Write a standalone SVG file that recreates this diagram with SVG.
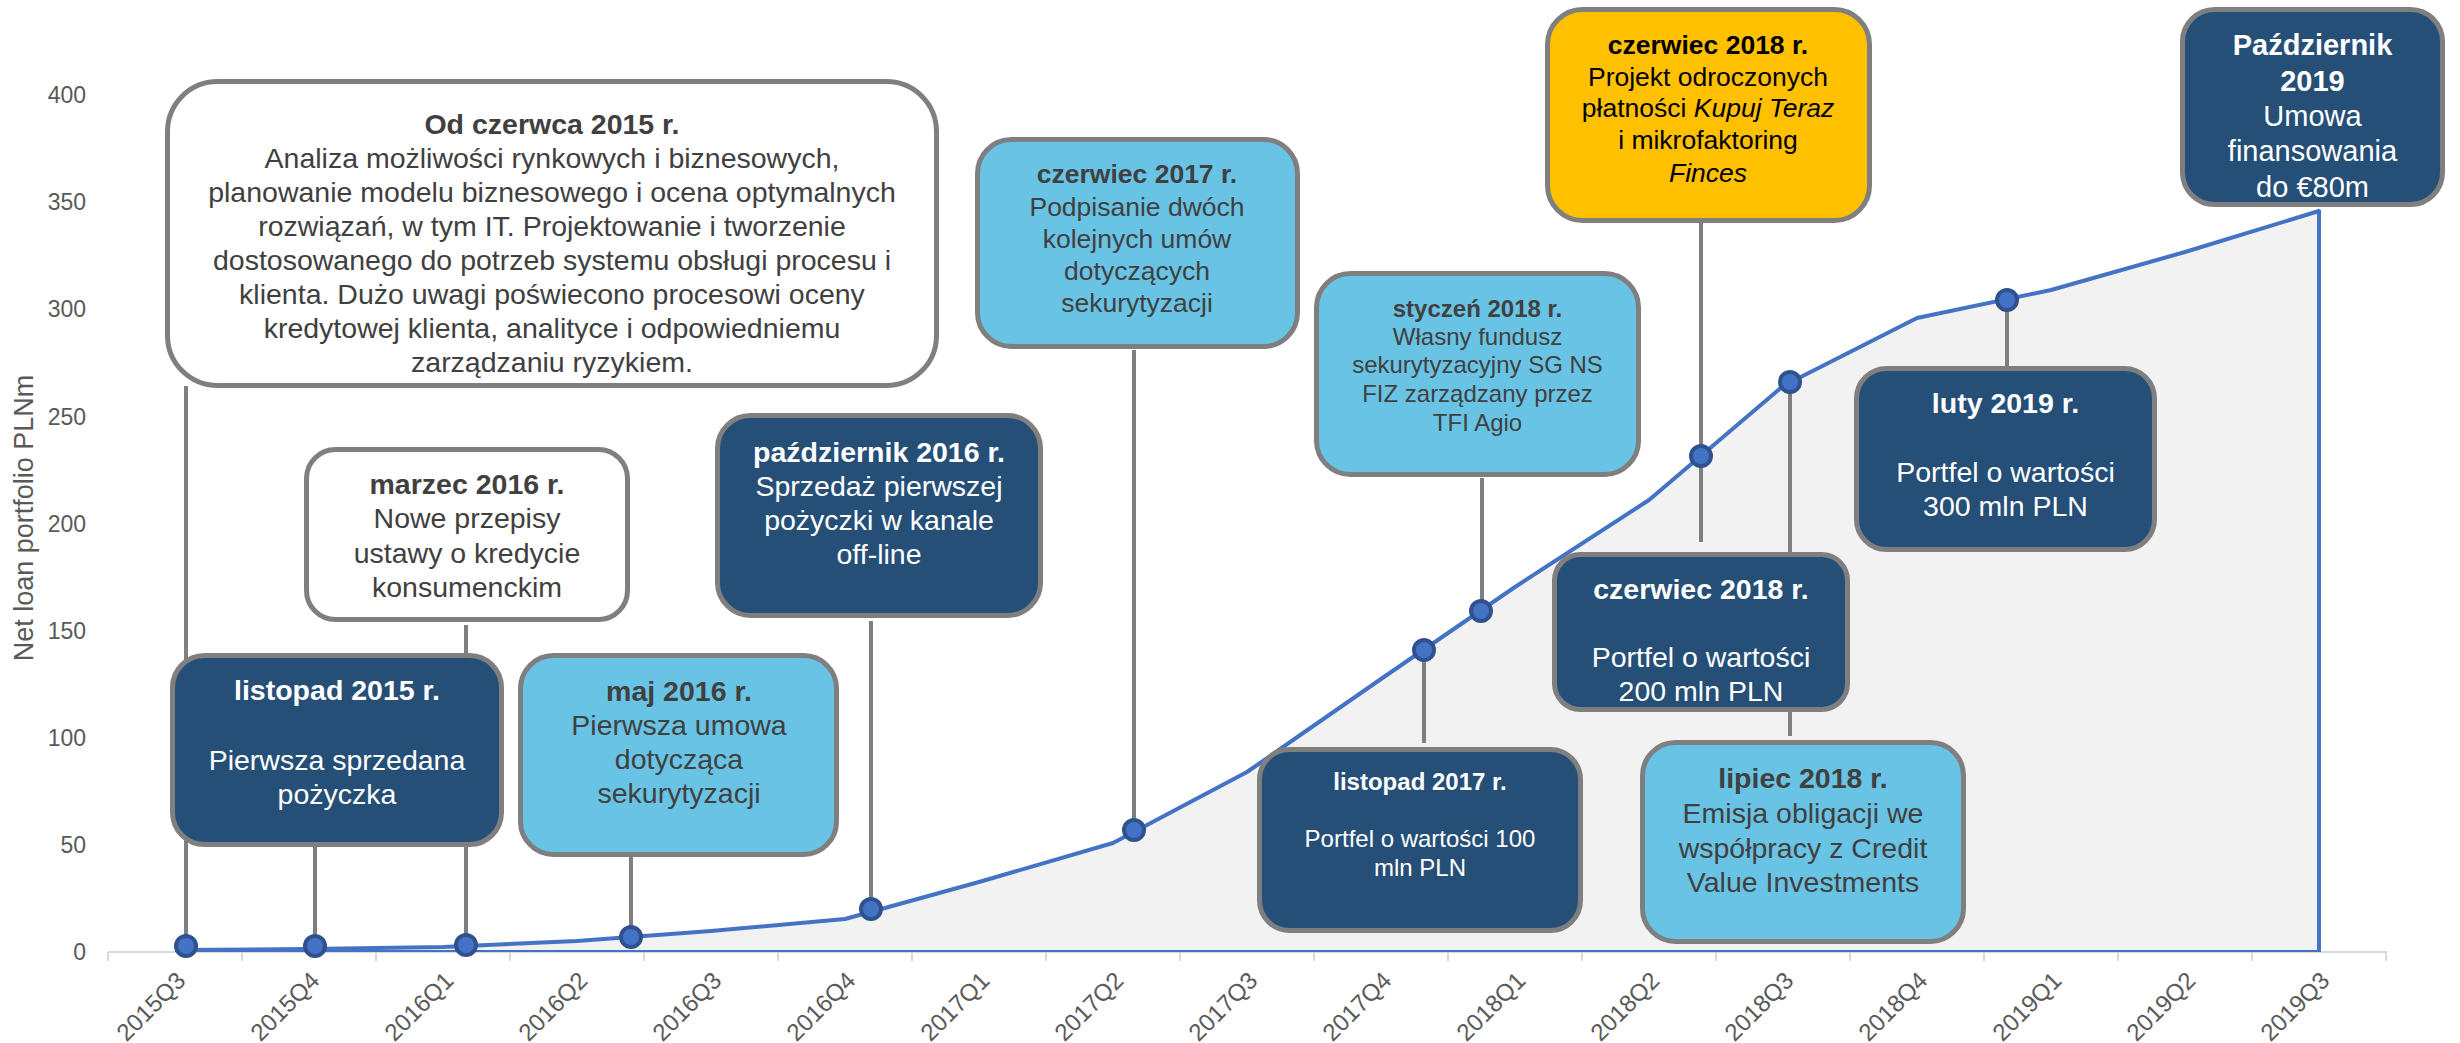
<svg xmlns="http://www.w3.org/2000/svg" width="2460" height="1043" viewBox="0 0 2460 1043">
<style>
.t{font-family:"Liberation Sans",Arial,Helvetica,sans-serif;text-anchor:middle}
.b{font-weight:bold}
.i{font-style:italic}
.box{stroke:#7F7F7F;stroke-width:5}
.dark{fill:#264F78}.light{fill:#69C3E4}.white{fill:#FFFFFF}.yellow{fill:#FFC000}
.w{fill:#FFFFFF}.g{fill:#404040}.k{fill:#000000}
.f28{font-size:28.5px}.f26{font-size:26.5px}.f24{font-size:24px}.f29{font-size:29px}
.ax{font-family:"Liberation Sans",Arial,Helvetica,sans-serif;font-size:23px;fill:#595959}
.xl{font-size:24px}
.conn{stroke:#7F7F7F;stroke-width:4;fill:none}
.mk{fill:#4472C4;stroke:#2F528F;stroke-width:4}
</style>
<rect width="2460" height="1043" fill="#FFFFFF"/>
<g id="chart">
<path d="M175,950 L309,949 L443,947 L577,941 L711,931 L845,919 L979,882 L1113,843 L1247,772 L1381,679 L1515,587 L1649,500 L1783,386 L1917,318 L2051,290 L2185,252 L2319,211 L2319,952 L175,952 Z" fill="#F2F2F2" stroke="none"/>
<line x1="108" y1="952" x2="2387" y2="952" stroke="#D9D9D9" stroke-width="2"/>
<path d="M175,951 L2319,951" stroke="#4472C4" stroke-width="2" fill="none"/>
<path d="M175,950 L309,949 L443,947 L577,941 L711,931 L845,919 L979,882 L1113,843 L1247,772 L1381,679 L1515,587 L1649,500 L1783,386 L1917,318 L2051,290 L2185,252 L2319,211 L2319,952" stroke="#4472C4" stroke-width="4" fill="none" stroke-linejoin="round"/>
<g stroke="#D9D9D9" stroke-width="2">
<line x1="108" y1="952" x2="108" y2="961"/><line x1="242" y1="952" x2="242" y2="961"/><line x1="376" y1="952" x2="376" y2="961"/><line x1="510" y1="952" x2="510" y2="961"/><line x1="644" y1="952" x2="644" y2="961"/><line x1="778" y1="952" x2="778" y2="961"/><line x1="912" y1="952" x2="912" y2="961"/><line x1="1046" y1="952" x2="1046" y2="961"/><line x1="1180" y1="952" x2="1180" y2="961"/><line x1="1314" y1="952" x2="1314" y2="961"/><line x1="1448" y1="952" x2="1448" y2="961"/><line x1="1582" y1="952" x2="1582" y2="961"/><line x1="1716" y1="952" x2="1716" y2="961"/><line x1="1850" y1="952" x2="1850" y2="961"/><line x1="1984" y1="952" x2="1984" y2="961"/><line x1="2118" y1="952" x2="2118" y2="961"/><line x1="2252" y1="952" x2="2252" y2="961"/><line x1="2386" y1="952" x2="2386" y2="961"/>
</g>
<g class="ax" text-anchor="end">
<text x="86" y="960">0</text><text x="86" y="853">50</text><text x="86" y="746">100</text><text x="86" y="639">150</text><text x="86" y="532">200</text><text x="86" y="425">250</text><text x="86" y="317">300</text><text x="86" y="210">350</text><text x="86" y="103">400</text>
</g>
<text class="ax" text-anchor="middle" style="font-size:27px" transform="translate(33,518) rotate(-90)">Net loan portfolio PLNm</text>
<g class="ax xl" text-anchor="end">
<text transform="translate(187,982) rotate(-45)">2015Q3</text>
<text transform="translate(321,982) rotate(-45)">2015Q4</text>
<text transform="translate(455,982) rotate(-45)">2016Q1</text>
<text transform="translate(589,982) rotate(-45)">2016Q2</text>
<text transform="translate(723,982) rotate(-45)">2016Q3</text>
<text transform="translate(857,982) rotate(-45)">2016Q4</text>
<text transform="translate(991,982) rotate(-45)">2017Q1</text>
<text transform="translate(1125,982) rotate(-45)">2017Q2</text>
<text transform="translate(1259,982) rotate(-45)">2017Q3</text>
<text transform="translate(1393,982) rotate(-45)">2017Q4</text>
<text transform="translate(1527,982) rotate(-45)">2018Q1</text>
<text transform="translate(1661,982) rotate(-45)">2018Q2</text>
<text transform="translate(1795,982) rotate(-45)">2018Q3</text>
<text transform="translate(1929,982) rotate(-45)">2018Q4</text>
<text transform="translate(2063,982) rotate(-45)">2019Q1</text>
<text transform="translate(2197,982) rotate(-45)">2019Q2</text>
<text transform="translate(2331,982) rotate(-45)">2019Q3</text>
</g>
</g>
<g id="connectors">
<line class="conn" x1="186" y1="386" x2="186" y2="946"/>
<line class="conn" x1="315" y1="846" x2="315" y2="946"/>
<line class="conn" x1="466" y1="625" x2="466" y2="945"/>
<line class="conn" x1="631" y1="857" x2="631" y2="937"/>
<line class="conn" x1="871" y1="621" x2="871" y2="909"/>
<line class="conn" x1="1134" y1="350" x2="1134" y2="830"/>
<line class="conn" x1="1424" y1="650" x2="1424" y2="743"/>
<line class="conn" x1="1482" y1="478" x2="1482" y2="611"/>
<line class="conn" x1="1701" y1="223" x2="1701" y2="542"/>
<line class="conn" x1="1790" y1="382" x2="1790" y2="736"/>
<line class="conn" x1="2007" y1="300" x2="2007" y2="366"/>
<circle class="mk" cx="186" cy="946" r="10"/>
<circle class="mk" cx="315" cy="946" r="10"/>
<circle class="mk" cx="466" cy="945" r="10"/>
<circle class="mk" cx="631" cy="937" r="10"/>
<circle class="mk" cx="871" cy="909" r="10"/>
<circle class="mk" cx="1134" cy="830" r="10"/>
<circle class="mk" cx="1424" cy="650" r="10"/>
<circle class="mk" cx="1481" cy="611" r="10"/>
<circle class="mk" cx="1701" cy="456" r="10"/>
<circle class="mk" cx="1790" cy="382" r="10"/>
<circle class="mk" cx="2007" cy="300" r="10"/>
</g>
<g id="n-od-czerwca-2015">
<rect class="box white" x="167.5" y="81.5" width="769" height="304" rx="50"/>
<text class="t f28 g"><tspan class="b" x="552" y="134">Od czerwca 2015 r.</tspan><tspan x="552" y="168">Analiza możliwości rynkowych i biznesowych,</tspan><tspan x="552" y="202">planowanie modelu biznesowego i ocena optymalnych</tspan><tspan x="552" y="236">rozwiązań, w tym IT. Projektowanie i tworzenie</tspan><tspan x="552" y="270">dostosowanego do potrzeb systemu obsługi procesu i</tspan><tspan x="552" y="304">klienta. Dużo uwagi poświecono procesowi oceny</tspan><tspan x="552" y="338">kredytowej klienta, analityce i odpowiedniemu</tspan><tspan x="552" y="372">zarządzaniu ryzykiem.</tspan></text>
</g>
<g id="n-marzec-2016">
<rect class="box white" x="306.5" y="449.5" width="321" height="170" rx="29"/>
<text class="t f28 g"><tspan class="b" x="467" y="494">marzec 2016 r.</tspan><tspan x="467" y="528">Nowe przepisy</tspan><tspan x="467" y="563">ustawy o kredycie</tspan><tspan x="467" y="597">konsumenckim</tspan></text>
</g>
<g id="n-listopad-2015">
<rect class="box dark" x="172.5" y="655.5" width="329" height="189" rx="32"/>
<text class="t f28 w"><tspan class="b" x="337" y="700">listopad 2015 r.</tspan><tspan x="337" y="770">Pierwsza sprzedana</tspan><tspan x="337" y="804">pożyczka</tspan></text>
</g>
<g id="n-maj-2016">
<rect class="box light" x="520.5" y="655.5" width="316" height="199" rx="33"/>
<text class="t f28 g"><tspan class="b" x="679" y="701">maj 2016 r.</tspan><tspan x="679" y="735">Pierwsza umowa</tspan><tspan x="679" y="769">dotycząca</tspan><tspan x="679" y="803">sekurytyzacji</tspan></text>
</g>
<g id="n-pazdziernik-2016">
<rect class="box dark" x="717.5" y="415.5" width="323" height="200" rx="33"/>
<text class="t f28 w"><tspan class="b" x="879" y="462">październik 2016 r.</tspan><tspan x="879" y="496">Sprzedaż pierwszej</tspan><tspan x="879" y="530">pożyczki w kanale</tspan><tspan x="879" y="564">off-line</tspan></text>
</g>
<g id="n-czerwiec-2017">
<rect class="box light" x="977.5" y="139.5" width="320" height="207" rx="34"/>
<text class="t f26 g"><tspan class="b" x="1137" y="183">czerwiec 2017 r.</tspan><tspan x="1137" y="216">Podpisanie dwóch</tspan><tspan x="1137" y="248">kolejnych umów</tspan><tspan x="1137" y="280">dotyczących</tspan><tspan x="1137" y="312">sekurytyzacji</tspan></text>
</g>
<g id="n-styczen-2018">
<rect class="box light" x="1316.5" y="273.5" width="322" height="201" rx="34"/>
<text class="t f24 g"><tspan class="b" x="1477.5" y="317">styczeń 2018 r.</tspan><tspan x="1477.5" y="345">Własny fundusz</tspan><tspan x="1477.5" y="373">sekurytyzacyjny SG NS</tspan><tspan x="1477.5" y="402">FIZ zarządzany przez</tspan><tspan x="1477.5" y="431">TFI Agio</tspan></text>
</g>
<g id="n-listopad-2017">
<rect class="box dark" x="1259.5" y="749.5" width="321" height="181" rx="30"/>
<text class="t f24 w"><tspan class="b" x="1420" y="790">listopad 2017 r.</tspan><tspan x="1420" y="847">Portfel o wartości 100</tspan><tspan x="1420" y="876">mln PLN</tspan></text>
</g>
<g id="n-czerwiec-2018-projekt">
<rect class="box yellow" x="1547.5" y="9.5" width="322" height="211" rx="35"/>
<text class="t f26 k"><tspan class="b" x="1708" y="54">czerwiec 2018 r.</tspan><tspan x="1708" y="86">Projekt odroczonych</tspan><tspan x="1708" y="117">płatności <tspan class="i">Kupuj Teraz</tspan></tspan><tspan x="1708" y="149">i mikrofaktoring</tspan><tspan class="i" x="1708" y="182">Finces</tspan></text>
</g>
<g id="n-czerwiec-2018-portfel">
<rect class="box dark" x="1554.5" y="554.5" width="293" height="155" rx="26"/>
<text class="t f28 w"><tspan class="b" x="1701" y="599">czerwiec 2018 r.</tspan><tspan x="1701" y="667">Portfel o wartości</tspan><tspan x="1701" y="701">200 mln PLN</tspan></text>
</g>
<g id="n-lipiec-2018">
<rect class="box light" x="1642.5" y="742.5" width="321" height="199" rx="33"/>
<text class="t f28 g"><tspan class="b" x="1803" y="788">lipiec 2018 r.</tspan><tspan x="1803" y="823">Emisja obligacji we</tspan><tspan x="1803" y="858">współpracy z Credit</tspan><tspan x="1803" y="892">Value Investments</tspan></text>
</g>
<g id="n-luty-2019">
<rect class="box dark" x="1856.5" y="368.5" width="298" height="181" rx="30"/>
<text class="t f28 w"><tspan class="b" x="2005.5" y="413">luty 2019 r.</tspan><tspan x="2005.5" y="482">Portfel o wartości</tspan><tspan x="2005.5" y="516">300 mln PLN</tspan></text>
</g>
<g id="n-pazdziernik-2019">
<rect class="box dark" x="2182.5" y="9.5" width="260" height="195" rx="32"/>
<text class="t f29 w"><tspan class="b" x="2312.5" y="55">Październik</tspan><tspan class="b" x="2312.5" y="91">2019</tspan><tspan x="2312.5" y="126">Umowa</tspan><tspan x="2312.5" y="161">finansowania</tspan><tspan x="2312.5" y="197">do €80m</tspan></text>
</g>
</svg>
